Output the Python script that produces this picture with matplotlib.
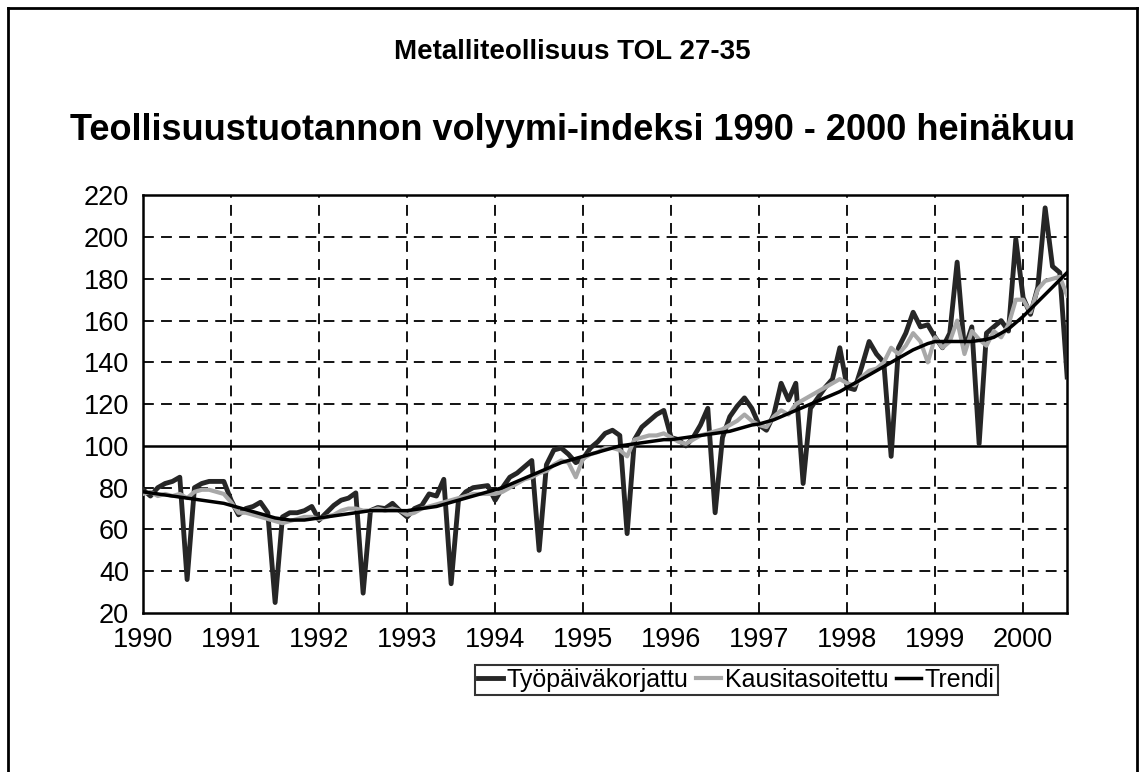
import matplotlib.pyplot as plt
from matplotlib.lines import Line2D
import numpy as np

plt.rcParams['font.family'] = ['Liberation Sans', 'DejaVu Sans']

# monthly index values, Jan 1990 - Jul 2000
tyopaiva = [
    79, 76, 80, 82, 83, 85, 36, 80, 82, 83, 83, 83,          # 1990
    74, 67, 70, 71, 73, 68, 25, 66, 68, 68, 69, 71,          # 1991
    64.5, 68, 71.5, 74, 75, 77.5, 29.5, 69, 70.5, 70, 72.5, 69,  # 1992
    66, 70, 71.5, 77, 76, 84, 34, 74, 78, 80, 80.5, 81,      # 1993
    74, 80, 85, 87, 90, 93, 50, 91, 98, 99, 96, 92,          # 1994
    94, 99, 102, 106, 107.5, 105, 58, 103, 109, 112, 115, 117,  # 1995
    104, 103, 100, 104, 110, 118, 68, 104, 114, 119, 123, 118,  # 1996
    110, 107.5, 115, 130, 122, 130, 82, 118, 123, 128, 132, 147,  # 1997
    128, 127, 138, 150, 144, 140, 95, 147, 154, 164, 157, 158,  # 1998
    152, 147, 154, 188, 146, 157, 101, 154, 157, 160, 155, 199,  # 1999
    171, 163, 176, 214, 186, 183, 133,                        # 2000
]
kausi = [
    77, 78, 76, 77, 76, 77, 75, 78, 79, 79, 78, 77,
    73, 68, 68, 67, 66, 65, 64, 63, 64, 65, 66, 66,
    65, 66, 67, 69, 70, 70, 69, 69, 70, 69, 70, 69,
    67, 68, 70, 71, 72, 73, 74, 75, 76, 77, 77, 77,
    77, 78, 80, 82, 84, 85, 87, 88, 91, 93, 92, 85,
    94, 96, 97, 99, 99, 98, 95, 103, 104, 105, 105, 106,
    104, 102, 101, 103, 105, 106, 107, 108, 110, 112, 115, 112,
    110, 109, 114, 117, 115, 120, 122, 124, 126, 128, 130, 132,
    130, 129, 133, 136, 137, 140, 147, 144, 148, 154, 150, 140,
    152, 147, 150, 160, 144, 155, 151, 148, 155, 152, 158, 170,
    170, 164, 175, 179, 180, 181, 172,
]
trendi = [
    78, 77.5, 77, 76.5, 76, 75.5, 75, 74.5, 74, 73.5, 73, 72.5,
    71.5, 70.5, 69.5, 68.5, 67.5, 66.5, 65.5, 65, 64.5, 64.5, 64.5, 65,
    65.5, 66, 66.5, 67, 67.5, 68, 68.5, 69, 69, 69, 69, 69,
    69, 69.5, 70, 70.5, 71, 72, 73, 74, 75, 76, 77, 78,
    79, 80, 81.5, 83, 84.5, 86, 87.5, 89, 90.5, 92, 93, 94,
    95, 96, 97, 98, 99, 100, 100.5, 101, 101.5, 102, 102.5, 103,
    103, 103.5, 104, 104.5, 105, 105.5, 106, 106.5, 107, 108, 109, 110,
    110.5, 111.5, 112.5, 114, 115.5, 117, 118.5, 120, 121.5, 123, 124.5, 126,
    128, 130, 132, 134, 136, 138, 140, 142, 144, 146, 147.5, 149,
    150, 150, 150, 150, 150, 150, 150.5, 151, 152, 154, 156, 159,
    162, 165.5, 169, 172.5, 176, 179.5, 183,
]
years = list(range(1990, 2001))
y_ticks = list(range(20, 221, 20))

x = 1990 + np.arange(len(tyopaiva)) / 12

fig = plt.figure(figsize=(11.45, 7.72), dpi=100)
ax = fig.add_axes([0.125, 0.206, 0.807, 0.541])

# outer frame
fig.add_artist(Line2D([0.007, 0.007], [0.0, 0.99], color='black', lw=2))
fig.add_artist(Line2D([0.007, 0.993], [0.99, 0.99], color='black', lw=2))
fig.add_artist(Line2D([0.993, 0.993], [0.0, 0.99], color='black', lw=2))

for yv in y_ticks:
    if yv == 100:
        ax.axhline(yv, color='black', lw=1.8, zorder=1)
    elif yv not in (20, 220):
        ax.axhline(yv, color='black', lw=1.3, ls=(0, (6, 4)), zorder=1)
for xv in years[1:]:
    ax.axvline(xv, color='black', lw=1.3, ls=(0, (6, 4)), zorder=1)

ax.plot(x, tyopaiva, color='#262626', lw=3.5, label='Työpäiväkorjattu', zorder=3)
ax.plot(x, kausi, color='#a8a8a8', lw=3, label='Kausitasoitettu', zorder=4)
ax.plot(x, trendi, color='black', lw=2.5, label='Trendi', zorder=5)

ax.set_xlim(1990, 2000.5)
ax.set_ylim(20, 220)
ax.set_xticks(years)
ax.set_yticks(y_ticks)
ax.tick_params(length=0, labelsize=19.5)
ax.tick_params(axis='x', pad=10)
ax.tick_params(axis='y', pad=10)
for s in ax.spines.values():
    s.set_linewidth(1.8)

fig.text(0.5, 0.932, 'Metalliteollisuus TOL 27-35', ha='center', va='center',
         fontsize=20, fontweight='bold')
fig.text(0.5, 0.831, 'Teollisuustuotannon volyymi-indeksi 1990 - 2000 heinäkuu',
         ha='center', va='center', fontsize=26, fontweight='bold')

leg = fig.legend(loc='center', bbox_to_anchor=(0.643, 0.119), ncol=3,
                 fontsize=18, frameon=True, fancybox=False, edgecolor='black',
                 handlelength=1.0, handletextpad=0.15, columnspacing=0.3,
                 borderpad=0.12, borderaxespad=0)
leg.get_frame().set_linewidth(1.5)

fig.savefig('out.png', dpi=100)
